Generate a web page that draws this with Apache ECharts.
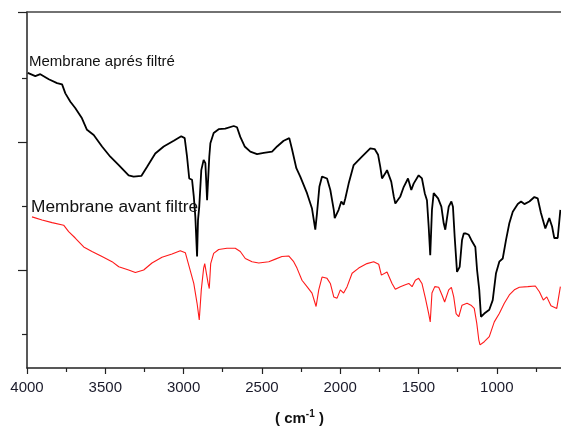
<!DOCTYPE html>
<html>
<head>
<meta charset="utf-8">
<script src="https://cdn.jsdelivr.net/npm/echarts@6/dist/echarts.min.js"></script>
<style>html,body{margin:0;padding:0;background:#fff}#c{width:561px;height:428px}</style>
</head>
<body>
<div id="c"></div>
<script>
// Wavenumber (cm-1) and transmittance-like values
var apresWn = [3995,3947,3915,3861,3808,3776,3755,3723,3692,3649,3617,3574,3521,3468,3457,3414,3351,3319,3270,3234,3181,3127,3063,3015,2993,2978,2964,2946,2935,2925,2914,2908,2900,2887,2872,2861,2855,2850,2836,2829,2808,2776,2734,2680,2659,2638,2610,2574,2531,2488,2435,2403,2361,2325,2308,2280,2255,2212,2180,2159,2148,2133,2116,2084,2063,2041,2035,2010,1993,1978,1967,1946,1914,1861,1808,1780,1758,1744,1733,1712,1701,1695,1674,1658,1648,1616,1594,1567,1546,1531,1499,1478,1460,1446,1435,1425,1414,1403,1375,1354,1339,1329,1307,1290,1280,1269,1254,1237,1222,1211,1197,1179,1163,1154,1137,1126,1112,1101,1080,1048,1026,1005,984,962,941,920,898,866,845,824,792,760,739,718,690,665,647,633,611,594];
var apresT = [70.8,70.3,70.6,69.8,69.2,69.0,67.6,66.3,65.3,63.7,61.9,61.1,59.3,57.7,57.5,56.4,54.8,54.6,54.7,56.1,58.2,59.3,60.2,60.9,60.6,57.7,54.3,54.1,51.5,48.3,42.1,47.8,49.9,55.6,57.2,56.7,53.6,50.9,57.7,59.8,61.4,62.0,62.1,62.5,62.3,60.8,59.3,58.5,58.1,58.3,58.5,59.3,60.2,60.6,58.9,55.9,54.6,52.0,49.6,46.3,48.9,53.0,54.6,54.3,52.5,49.4,48.1,49.4,50.7,50.2,51.2,53.5,56.4,57.7,59.0,58.9,58.0,56.1,54.3,55.1,55.6,55.4,53.8,51.5,50.4,51.5,53.0,54.3,52.5,53.5,54.8,54.3,52.0,50.9,46.8,42.3,49.4,52.0,51.2,49.9,47.3,46.3,49.9,50.7,49.9,45.2,39.7,40.5,44.7,45.7,45.7,45.5,44.7,44.4,43.6,40.0,36.9,32.7,33.2,33.8,35.3,39.5,41.3,41.8,44.7,47.3,49.1,50.3,50.7,50.3,50.7,51.4,51.2,48.9,46.5,48.1,46.8,45.0,45.0,49.4];

var avantWn = [3968,3904,3840,3766,3734,3692,3638,3585,3521,3457,3414,3351,3308,3255,3202,3138,3074,3021,2989,2964,2935,2914,2900,2887,2872,2865,2857,2844,2836,2827,2808,2776,2723,2670,2638,2606,2563,2520,2456,2414,2372,2329,2297,2276,2244,2212,2180,2154,2137,2116,2084,2063,2041,2020,1999,1978,1956,1924,1882,1829,1786,1754,1737,1701,1690,1669,1648,1616,1584,1562,1541,1520,1499,1478,1456,1435,1425,1414,1396,1371,1350,1333,1307,1290,1275,1260,1243,1222,1190,1165,1144,1128,1115,1107,1080,1048,1016,984,952,920,888,856,802,754,728,703,681,654,617,594];
var avantT = [48.3,47.8,47.4,47.0,46.0,45.0,43.6,42.9,42.1,41.3,40.5,40.0,39.6,40.0,41.1,42.0,42.5,43.0,42.7,40.5,37.9,34.8,32.2,36.9,40.3,41.0,40.8,38.0,37.1,41.0,42.6,43.2,43.4,43.4,42.9,41.8,41.3,41.1,41.3,41.7,42.1,42.2,41.3,40.3,38.4,37.4,36.4,34.3,36.9,38.9,38.7,37.9,35.8,35.6,36.9,36.4,37.4,39.5,40.3,41.0,41.3,40.9,39.2,39.7,39.4,37.9,37.0,37.4,37.7,37.9,37.4,38.4,38.7,37.9,35.6,33.2,31.9,36.4,37.4,37.3,36.1,35.0,36.9,37.3,35.8,33.2,32.7,34.5,34.8,34.5,34.0,31.7,29.1,28.3,28.8,29.6,31.9,33.2,34.8,36.1,36.9,37.3,37.4,37.5,36.6,35.3,35.8,34.4,34.0,37.4];

var xMajorTicks = [1000,1500,2000,2500,3000,3500,4000];
var xMinorTicks = [750,1250,1750,2250,2750,3250,3750];
var yMin = 24.69, yMax = 80.31;
var yMajorTicks = [40,60,80.31];
var yMinorTicks = [30,50,70];

function zip(a,b){ var r=[]; for (var i=0;i<a.length;i++) r.push([a[i],b[i]]); return r; }

var chart = echarts.init(document.getElementById('c'), null, {renderer:'canvas'});
var axisColor = '#222';
chart.setOption({
  animation:false,
  backgroundColor:'#fff',
  grid:{left:27, right:0, top:12, bottom:60, containLabel:false},
  xAxis:[
    {type:'value', inverse:true, min:590, max:4000, position:'bottom',
     axisLine:{show:true, lineStyle:{color:axisColor, width:1.5}},
     axisTick:{show:true, customValues:xMajorTicks, length:6, lineStyle:{color:axisColor, width:1.2}},
     axisLabel:{show:true, customValues:xMajorTicks, margin:12,
       fontFamily:'Liberation Sans, Arial, sans-serif', fontSize:15, color:'#1a1a2a',
       formatter:function(v){ return String(v); }},
     splitLine:{show:false}},
    {type:'value', inverse:true, min:590, max:4000, position:'bottom',
     axisLine:{show:false},
     axisTick:{show:true, customValues:xMinorTicks, length:4, lineStyle:{color:axisColor, width:1.2}},
     axisLabel:{show:false}, splitLine:{show:false}},
    {type:'value', inverse:true, min:590, max:4000, position:'top',
     axisLine:{show:true, lineStyle:{color:'#444', width:1.5}},
     axisTick:{show:false}, axisLabel:{show:false}, splitLine:{show:false}}
  ],
  yAxis:[
    {type:'value', min:yMin, max:yMax, position:'left',
     axisLine:{show:true, lineStyle:{color:axisColor, width:1.5}},
     axisTick:{show:true, customValues:yMajorTicks, length:9, lineStyle:{color:axisColor, width:1.2}},
     axisLabel:{show:false}, splitLine:{show:false}},
    {type:'value', min:yMin, max:yMax, position:'left',
     axisLine:{show:false},
     axisTick:{show:true, customValues:yMinorTicks, length:5, lineStyle:{color:axisColor, width:1.2}},
     axisLabel:{show:false}, splitLine:{show:false}}
  ],
  series:[
    {name:'Membrane avant filtre', type:'line', xAxisIndex:0, yAxisIndex:0, data:zip(avantWn, avantT),
     showSymbol:false, lineStyle:{color:'#ff1a1a', width:1.1}, z:2},
    {name:'Membrane aprés filtré', type:'line', xAxisIndex:0, yAxisIndex:0, data:zip(apresWn, apresT),
     showSymbol:false, lineStyle:{color:'#000', width:1.8}, z:3}
  ],
  graphic:[
    {type:'text', left:29, top:54, z:10, style:{text:'Membrane aprés filtré', font:'15px "Liberation Sans", Arial, sans-serif', fill:'#111'}},
    {type:'text', left:31, top:199, z:10, style:{text:'Membrane avant filtre', font:'17.3px "Liberation Sans", Arial, sans-serif', fill:'#111'}},
    {type:'text', left:275, top:409, z:10, style:{
      text:'{a|( cm}{b|-1}{a| )}',
      rich:{
        a:{fontFamily:'Liberation Sans, Arial, sans-serif', fontSize:15, fontWeight:'bold', fill:'#111', color:'#111'},
        b:{fontFamily:'Liberation Sans, Arial, sans-serif', fontSize:10, fontWeight:'bold', fill:'#111', color:'#111', padding:[0,0,9,0]}
      }}}
  ]
});
</script>
</body>
</html>
